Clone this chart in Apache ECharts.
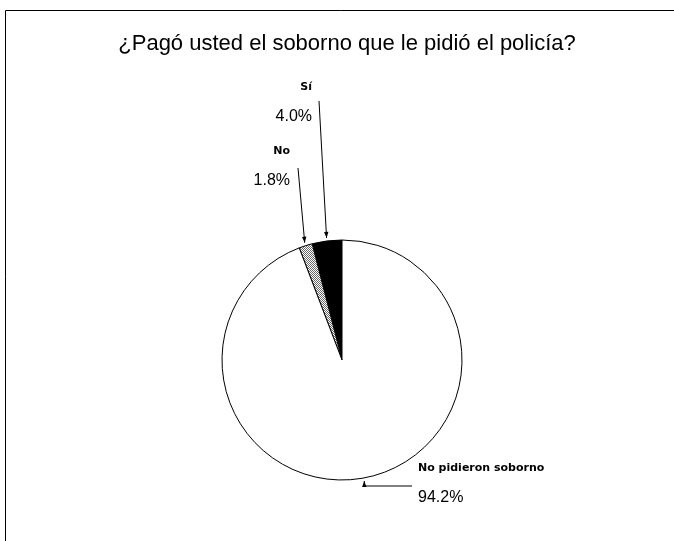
<!DOCTYPE html>
<html>
<head>
<meta charset="utf-8">
<script src="https://cdn.jsdelivr.net/npm/echarts@6/dist/echarts.min.js"></script>
<style>
  html, body { margin: 0; padding: 0; background: #fff; }
  #chart { width: 674px; height: 541px; }
</style>
</head>
<body>
<div id="chart"></div>
<script>
// ---- data ----
const titleText = '¿Pagó usted el soborno que le pidió el policía?';
const categories = ['Sí', 'No', 'No pidieron soborno'];
const values = [4.0, 1.8, 94.2];

// ---- layout / style ----
const CX = 342, CY = 360, R = 120, TIP_GAP = 3;
const labelSpots = [
  { x: 312, y: 72,  align: 'right', lineEnd: [319, 101] },
  { x: 290, y: 136, align: 'right', lineEnd: [298, 168] },
  { x: 418, y: 453, align: 'left',  elbowY: 486, lineEnd: [412, 486] }
];

// dotted pattern for the "No" slice
const pc = document.createElement('canvas');
pc.width = 2; pc.height = 2;
const pctx = pc.getContext('2d');
pctx.fillStyle = '#ffffff'; pctx.fillRect(0, 0, 2, 2);
pctx.fillStyle = '#6a6a6a'; pctx.fillRect(0, 0, 1, 1); pctx.fillRect(1, 1, 1, 1);
const fills = ['#000000', { image: pc, repeat: 'repeat' }, '#ffffff'];

// tips of the leaders: slice mid-angles (counter-clockwise from 12 o'clock)
const total = values.reduce((a, b) => a + b, 0);
const tips = [];
let acc = 0;
values.forEach(v => {
  const mid = (acc + v / 2) / total * 2 * Math.PI;
  const th = Math.PI / 2 + mid;
  const rr = R + TIP_GAP;
  tips.push([CX + rr * Math.cos(th), CY - rr * Math.sin(th)]);
  acc += v;
});

function leaderPoints(i) {
  const t = tips[i], s = labelSpots[i];
  if (s.elbowY != null) return [t, [t[0], s.elbowY], s.lineEnd];
  return [t, s.lineEnd];
}

function arrowHead(i) {
  const pts = leaderPoints(i);
  const tip = pts[0], from = pts[1];
  let dx = tip[0] - from[0], dy = tip[1] - from[1];
  const d = Math.hypot(dx, dy); dx /= d; dy /= d;
  const len = 6, half = 2.2;
  const bx = tip[0] - dx * len, by = tip[1] - dy * len;
  return {
    type: 'polygon', silent: true, z: 100,
    shape: { points: [tip, [bx - dy * half, by + dx * half], [bx + dy * half, by - dx * half]] },
    style: { fill: '#000' }
  };
}

const chart = echarts.init(document.getElementById('chart'), null, { renderer: 'canvas' });
const option = {
  backgroundColor: '#ffffff',
  animation: false,
  title: {
    text: titleText,
    left: 342,
    textAlign: 'center',
    top: 28,
    textStyle: { fontFamily: 'Liberation Sans', fontSize: 22, fontWeight: 'normal', color: '#000' }
  },
  graphic: [
    {
      type: 'rect', silent: true, z: 0,
      shape: { x: 5.5, y: 10.5, width: 720, height: 620 },
      style: { fill: 'none', stroke: '#000', lineWidth: 1 }
    }
  ].concat(values.map((v, i) => arrowHead(i))),
  series: [{
    type: 'pie',
    center: [CX, CY],
    radius: R,
    startAngle: 90,
    clockwise: false,
    avoidLabelOverlap: false,
    silent: true,
    emphasis: { disabled: true },
    data: categories.map((c, i) => ({ name: c, value: values[i], itemStyle: { color: fills[i] } })),
    itemStyle: { borderColor: '#000', borderWidth: 1 },
    label: {
      show: true,
      color: '#000',
      formatter: p => '{b|' + p.name + '}\n{p|' + values[p.dataIndex].toFixed(1) + '%}',
      rich: {
        b: { fontFamily: 'DejaVu Sans', fontWeight: 'bold', fontSize: 11, lineHeight: 30, color: '#000' },
        p: { fontFamily: 'Liberation Sans', fontSize: 16, lineHeight: 30, color: '#000' }
      }
    },
    labelLine: { show: true, lineStyle: { color: '#000', width: 1 } },
    labelLayout: function (params) {
      const i = params.dataIndex, s = labelSpots[i];
      return {
        x: s.x, y: s.y, align: s.align, verticalAlign: 'top',
        labelLinePoints: leaderPoints(i)
      };
    }
  }]
};
chart.setOption(option);
</script>
</body>
</html>
